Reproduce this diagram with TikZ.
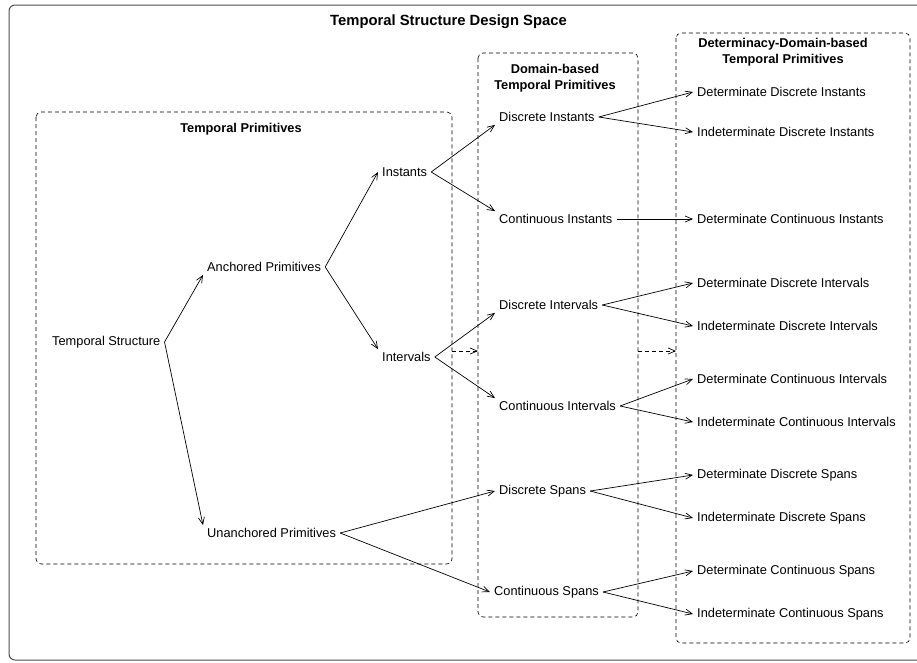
\documentclass[tikz,border=0pt]{standalone}
\usepackage{fontspec}
\setmainfont{Liberation Sans}
\usetikzlibrary{arrows.meta}
\usetikzlibrary{positioning}

\begin{document}
\begin{tikzpicture}[x=1pt, y=-1pt,
	font=\fontsize{12.8}{15}\selectfont,
	prim/.style={anchor=west, inner xsep=4pt, inner ysep=3pt},
	heading/.style={font=\fontsize{12.8}{16}\selectfont\bfseries, align=center},
	region/.style={draw, dash pattern=on 4pt off 3pt, rounded corners=5pt, line width=0.6pt},
	arr/.style={-{Straight Barb[length=7pt, width=6pt]}, line width=0.7pt},
	linkarr/.style={arr, dash pattern=on 4pt off 3pt}]
	\useasboundingbox (0,0) rectangle (917,662);

	% --- Regions ---
	\draw[gray!60!black, line width=1pt, rounded corners=6pt] (9,5) rectangle (930,660);
	\node[font=\fontsize{14.8}{17}\selectfont\bfseries] (space) at (448.5,22) {Temporal Structure Design Space};

	\draw[region] (36,112) rectangle (452,564);
	\node[heading] (tphead) at (241,129) {Temporal Primitives};
	\draw[region] (478,53) rectangle (638,617);
	\node[heading] (dbhead) at (555,78.5) {Domain-based\\Temporal Primitives};
	\draw[region] (676,33) rectangle (910,643);
	\node[heading] (ddbhead) at (783,52) {Determinacy-Domain-based\\Temporal Primitives};

	% --- Temporal primitives ---
	\node[prim] (ts) at (48,342) {Temporal Structure};
	\node[prim] (ap) at (203,267) {Anchored Primitives};
	\node[prim] (up) at (203,533) {Unanchored Primitives};
	\node[prim] (in) at (378,172) {Instants};
	\node[prim] (iv) at (378,357) {Intervals};

	% --- Domain-based ---
	\node[prim] (di) at (495,117) {Discrete Instants};
	\node[prim] (ci) at (495,219) {Continuous Instants};
	\node[prim] (div) at (495,305) {Discrete Intervals};
	\node[prim] (civ) at (495,406) {Continuous Intervals};
	\node[prim] (ds) at (495,491) {Discrete Spans};
	\node[prim] (cs) at (490,592) {Continuous Spans};

	% --- Determinacy-domain-based ---
	\node[prim] (ddi) at (693,92) {Determinate Discrete Instants};
	\node[prim] (idi) at (693,132) {Indeterminate Discrete Instants};
	\node[prim] (dci) at (693,219) {Determinate Continuous Instants};
	\node[prim] (ddiv) at (693,283) {Determinate Discrete Intervals};
	\node[prim] (idiv) at (693,326) {Indeterminate Discrete Intervals};
	\node[prim] (dciv) at (693,379) {Determinate Continuous Intervals};
	\node[prim] (iciv) at (693,422) {Indeterminate Continuous Intervals};
	\node[prim] (dds) at (693,475) {Determinate Discrete Spans};
	\node[prim] (ids) at (693,518) {Indeterminate Discrete Spans};
	\node[prim] (dcs) at (693,571) {Determinate Continuous Spans};
	\node[prim] (ics) at (693,614) {Indeterminate Continuous Spans};

	% --- Arrows ---
	\draw[arr] (ts.east) -- (ap.south west);
	\draw[arr] (ts.east) -- (up.north west);
	\draw[arr] (ap.east) -- (in.west);
	\draw[arr] (ap.east) -- (iv.north west);
	\draw[arr] (in.east) -- (di.south west);
	\draw[arr] (in.east) -- (ci.north west);
	\draw[arr] (iv.east) -- (div.south west);
	\draw[arr] (iv.east) -- (civ.north west);
	\draw[arr] (up.east) -- (ds.west);
	\draw[arr] (up.east) -- (cs.west);

	\draw[arr] (di.east) -- (ddi.west);
	\draw[arr] (di.east) -- (idi.west);
	\draw[arr] (ci.east) -- (dci.west);
	\draw[arr] (div.east) -- (ddiv.west);
	\draw[arr] (div.east) -- (idiv.west);
	\draw[arr] (civ.east) -- (dciv.west);
	\draw[arr] (civ.east) -- (iciv.west);
	\draw[arr] (ds.east) -- (dds.west);
	\draw[arr] (ds.east) -- (ids.west);
	\draw[arr] (cs.east) -- (dcs.west);
	\draw[arr] (cs.east) -- (ics.west);

	% region to region
	\coordinate (tpout) at (452,351);
	\coordinate (dbin) at (478,351);
	\coordinate (dbout) at (638,351);
	\coordinate (ddbin) at (676,351);
	\draw[linkarr] (tpout) -- (dbin);
	\draw[linkarr] (dbout) -- (ddbin);
\end{tikzpicture}
\end{document}
